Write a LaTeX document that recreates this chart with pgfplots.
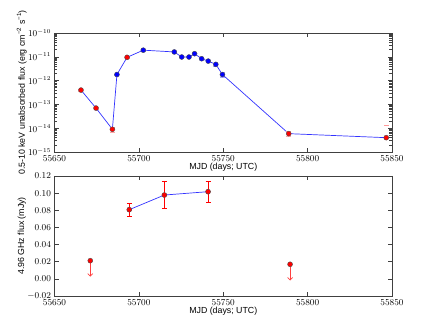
\documentclass[border=0pt]{standalone}
\usepackage{fontspec}
\setmainfont{Liberation Sans}
\usepackage{pgfplots}
\usepackage{pgfplotstable}
\pgfplotsset{compat=1.18}
\usetikzlibrary{arrows.meta}

% X-ray light curve (all points, joined by the line)
\pgfplotstableread{
x        y        e
55665.7  4.0e-13  0.3e-13
55674.6  7.0e-14  0.6e-14
55684.3  9.0e-15  2.5e-15
55687.0  1.8e-12  0.1e-12
55693.0  9.5e-12  0.5e-12
55702.6  1.9e-11  0.1e-11
55721.0  1.6e-11  0.1e-11
55725.4  9.8e-12  0.5e-12
55729.7  9.8e-12  0.5e-12
55733.0  1.35e-11 0.08e-11
55737.2  8.3e-12  0.5e-12
55741.1  6.6e-12  0.4e-12
55745.6  4.8e-12  0.6e-12
55749.5  1.8e-12  0.35e-12
55788.8  5.9e-15  1.5e-15
55846.6  4.0e-15  0.3e-15
}\xall

\pgfplotstableread{
x        y        e
55665.7  4.0e-13  0.3e-13
55674.6  7.0e-14  0.6e-14
55684.3  9.0e-15  2.5e-15
55693.0  9.5e-12  0.5e-12
55788.8  5.9e-15  1.5e-15
55846.6  4.0e-15  0.3e-15
}\xred

\pgfplotstableread{
x        y        e
55687.0  1.8e-12  0.1e-12
55702.6  1.9e-11  0.1e-11
55721.0  1.6e-11  0.1e-11
55725.4  9.8e-12  0.5e-12
55729.7  9.8e-12  0.5e-12
55733.0  1.35e-11 0.08e-11
55737.2  8.3e-12  0.5e-12
55741.1  6.6e-12  0.4e-12
55745.6  4.8e-12  0.6e-12
55749.5  1.8e-12  0.35e-12
}\xblue

% radio detections
\pgfplotstableread{
x        y       e
55694.3  0.0807  0.008
55715.1  0.0978  0.016
55741.0  0.1017  0.012
}\rdet

% radio upper limits
\pgfplotstableread{
x        y       v
55671.2  0.0212  -0.0187
55789.6  0.0170  -0.0190
}\rlim

\pgfplotsset{
  lcax/.style={
    scale only axis, width=337.5pt, anchor=south west,
    xmin=55650, xmax=55850, xtick={55650,55700,55750,55800,55850},
    scaled x ticks=false, scaled y ticks=false,
    xticklabel style={/pgf/number format/set thousands separator={}},
    axis line style={black!75, line width=0.8pt},
    tick style={black!75, line width=0.6pt},
    tick label style={font=\fontsize{8.8}{10}\selectfont},
    label style={font=\fontsize{8.8}{10}\selectfont},
    xlabel={MJD (days; UTC)},
    xlabel style={at={(axis description cs:0.5,0)}, anchor=center, yshift=-15pt},
    ylabel style={at={(axis description cs:-0.097,0.5)}, anchor=center},
  },
  dot/.style={only marks, mark=*, mark size=2.5pt,
    mark options={fill=#1, draw=black!70, line width=0.4pt}},
}

\begin{document}
\begin{tikzpicture}
\useasboundingbox (0,0) rectangle (436pt,329pt);

\begin{axis}[lcax, at={(54.5pt,177pt)}, height=119pt,
  ymode=log, ymin=1e-15, ymax=1e-10,
  ytick={1e-15,1e-14,1e-13,1e-12,1e-11,1e-10},
  ylabel={0.5-10 keV unabsorbed flux (erg cm\textsuperscript{−2} s\textsuperscript{−1})}]
  \addplot[blue, line width=0.7pt, opacity=0.8] table[x=x, y=y] {\xall};
  \addplot[red!35, only marks, mark=none, error bars/.cd, y dir=both, y explicit,
    error mark options={rotate=90, mark size=2.5pt, red!35}]
    table[x=x, y=y, y error=e] {\xred};
  \addplot[blue!35, only marks, mark=none, error bars/.cd, y dir=both, y explicit,
    error mark options={rotate=90, mark size=2.5pt, blue!35}]
    table[x=x, y=y, y error=e] {\xblue};
  \addplot[dot=red] table[x=x, y=y] {\xred};
  \addplot[dot=blue] table[x=x, y=y] {\xblue};
  \addplot[only marks, mark=-, mark size=2.5pt, red!40, line width=0.7pt]
    coordinates {(55846.6,1.36e-14)};
\end{axis}

\begin{axis}[lcax, at={(54.5pt,33pt)}, height=120pt,
  ymin=-0.02, ymax=0.12, ytick={-0.02,0,0.02,0.04,0.06,0.08,0.10,0.12},
  yticklabel style={/pgf/number format/.cd, fixed, fixed zerofill, precision=2},
  ylabel={4.96 GHz flux (mJy)}]
  \addplot[blue, line width=0.7pt, opacity=0.8] table[x=x, y=y] {\rdet};
  \addplot[red, only marks, mark=none, line width=0.7pt, error bars/.cd, y dir=both, y explicit,
    error bar style={red, line width=0.7pt},
    error mark options={rotate=90, mark size=2.5pt, red, line width=0.6pt}]
    table[x=x, y=y, y error=e] {\rdet};
  \addplot[red!75, line width=0.8pt, -{Straight Barb[length=2.5pt, width=5pt]},
    quiver={u=0, v=\thisrow{v}}] table[x=x, y=y] {\rlim};
  \addplot[dot=red] table[x=x, y=y] {\rdet};
  \addplot[dot=red] table[x=x, y=y] {\rlim};
\end{axis}
\end{tikzpicture}
\end{document}
